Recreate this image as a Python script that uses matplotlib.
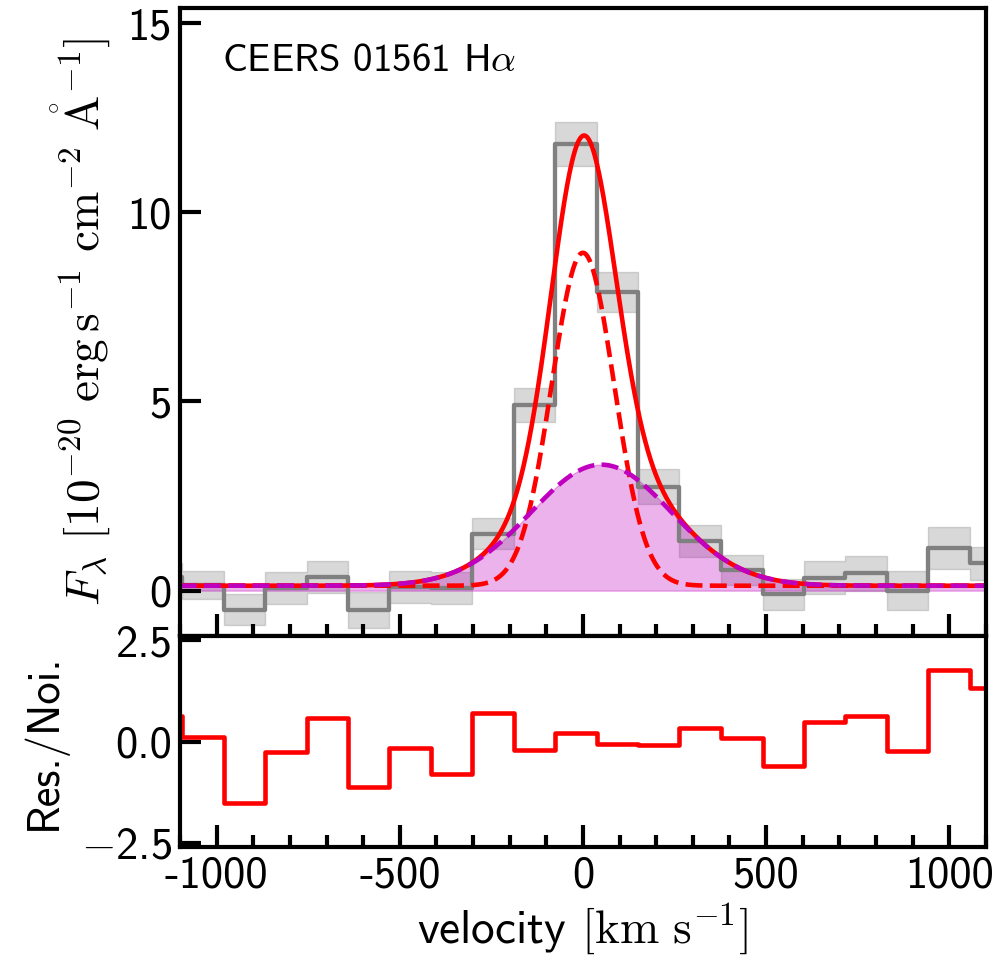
import numpy as np
import matplotlib.pyplot as plt
from matplotlib.ticker import MultipleLocator

plt.rcParams['font.family'] = 'cmss10'
plt.rcParams['mathtext.fontset'] = 'cm'
plt.rcParams['axes.unicode_minus'] = False

# binned H-alpha spectrum in velocity space (bin centres, km/s)
velocity = [-1150, -1037, -924, -811, -698, -585, -472, -358, -245, -132, -19,
            94, 207, 320, 434, 547, 660, 773, 886, 999, 1113]
flux = [0.37, 0.15, -0.50, 0.07, 0.37, -0.52, 0.10, 0.06, 1.50, 4.91, 11.81,
        7.89, 2.75, 1.32, 0.55, -0.10, 0.34, 0.46, 0.00, 1.13, 0.72]
flux_err = [0.37, 0.37, 0.40, 0.43, 0.42, 0.48, 0.42, 0.42, 0.41, 0.45, 0.58,
            0.53, 0.46, 0.42, 0.40, 0.42, 0.44, 0.46, 0.51, 0.55, 0.44]
residual = [0.64, 0.10, -1.51, -0.25, 0.58, -1.12, -0.17, -0.79, 0.70, -0.21, 0.20,
            -0.05, -0.09, 0.33, 0.08, -0.60, 0.49, 0.64, -0.23, 1.77, 1.33]

# best-fit model: continuum + narrow + broad gaussian
continuum = 0.13
narrow_amp, narrow_cen, narrow_sig = 8.8, 0.0, 85.0
broad_amp, broad_cen, broad_sig = 3.2, 50.0, 192.0

xtick_values = [-1000, -500, 0, 500, 1000]
xtick_labels = ['-1000', '-500', '0', '500', '1000']
flux_ticks = [0, 5, 10, 15]
res_ticks = [-2.5, 0.0, 2.5]
res_tick_labels = ['$-$2.5', '0.0', '2.5']


def gaussian(v, amp, cen, sig):
    return amp * np.exp(-0.5 * ((v - cen) / sig) ** 2)


v_model = np.linspace(-1200, 1200, 3000)
narrow = gaussian(v_model, narrow_amp, narrow_cen, narrow_sig)
broad = gaussian(v_model, broad_amp, broad_cen, broad_sig)
total = continuum + narrow + broad

v = np.array(velocity)
f = np.array(flux)
e = np.array(flux_err)

fig = plt.figure(figsize=(10.08, 9.64), dpi=100)
ax1 = fig.add_axes([0.1786, 0.3402, 0.7994, 0.6515])
ax2 = fig.add_axes([0.1786, 0.1214, 0.7994, 0.2188], sharex=ax1)

# spectrum with 1-sigma band
ax1.fill_between(v, f - e, f + e, step='mid', color='gray', alpha=0.3)
ax1.plot(v, f, drawstyle='steps-mid', color='gray', lw=3.1)
ax1.fill_between(v_model, continuum + broad, color='m', alpha=0.3)
ax1.plot(v_model, total, color='r', lw=3.3)
ax1.plot(v_model, continuum + narrow, color='r', ls='--', lw=3.3)
ax1.plot(v_model, continuum + broad, color='m', ls='--', lw=3.3)

ax1.text(0.052, 0.90, r'CEERS 01561 H$\alpha$', transform=ax1.transAxes,
         fontsize=28, va='baseline')
ax1.set_ylabel(r'$F_\lambda\ [10^{-20}\ {\rm erg\,s^{-1}\ cm^{-2}\ \mathring{A}^{-1}}]$',
               fontsize=34, labelpad=10)
ax1.set_ylim(-1.2, 15.4)
ax1.set_yticks(flux_ticks)
ax1.tick_params(labelbottom=False)

# residuals normalised by the noise
ax2.plot(v, residual, drawstyle='steps-mid', color='r', lw=3.3)
ax2.set_ylim(-2.6, 2.6)
ax2.set_yticks(res_ticks)
ax2.set_yticklabels(res_tick_labels)
ax2.set_ylabel('Res./Noi.', fontsize=32, labelpad=10)
ax2.set_xlabel(r'velocity $[\rm km\ s^{-1}]$', fontsize=34, labelpad=4)

ax2.set_xlim(-1100, 1100)
ax2.set_xticks(xtick_values)
ax2.set_xticklabels(xtick_labels)

for ax in [ax1, ax2]:
    ax.xaxis.set_minor_locator(MultipleLocator(100))
    ax.tick_params(which='both', direction='in', top=False, right=False,
                   width=3, labelsize=32)
    ax.tick_params(axis='x', which='major', length=16, pad=6)
    ax.tick_params(axis='x', which='minor', length=9)
    ax.tick_params(axis='y', which='major', length=15, pad=6)
    for spine in ax.spines.values():
        spine.set_linewidth(3)

fig.savefig('out.png', dpi=100)
